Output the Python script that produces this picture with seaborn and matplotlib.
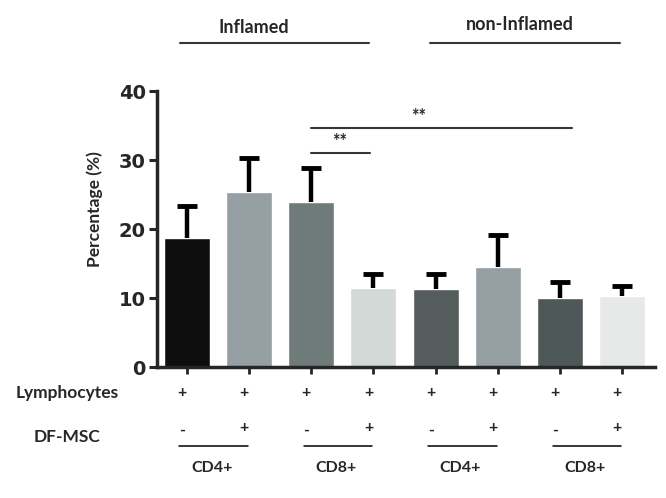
import matplotlib
matplotlib.use("Agg")
import matplotlib.pyplot as plt
import seaborn as sns

# Waarden
categories = ["Inf CD4", "Inf CD4 MSC", "Inf CD8", "Inf CD8 MSC",
              "Non CD4", "Non CD4 MSC", "Non CD8", "Non CD8 MSC"]
means = [18.7, 25.4, 23.9, 11.5, 11.3, 14.5, 10.0, 10.3]
errors = [4.6, 4.9, 4.9, 2.0, 2.2, 4.6, 2.3, 1.4]
lymphocytes = ["+", "+", "+", "+", "+", "+", "+", "+"]
df_msc = ["-", "+", "-", "+", "-", "+", "-", "+"]
subsets = ["CD4+", "CD8+", "CD4+", "CD8+"]
groups = ["Inflamed", "non-Inflamed"]
colors = ["#0e0e0e", "#969fa3", "#6f7b79", "#d3d9d7",
          "#545c5c", "#969fa3", "#4e5858", "#e6e9e8"]

sns.set_style("ticks")
plt.rcParams["font.family"] = ["Lato", "DejaVu Sans"]

fig = plt.figure(figsize=(6.66, 4.98), dpi=100)
ax = fig.add_axes([0.2357, 0.263, 0.748, 0.554])

sns.barplot(x=categories, y=means, hue=categories, palette=colors, legend=False,
            width=0.74, saturation=1, ax=ax)
x = list(range(len(categories)))
tops = [m + e for m, e in zip(means, errors)]
# alleen bovenste foutbalk
ax.vlines(x, means, tops, color="black", lw=3.2, zorder=1)
ax.plot(x, tops, linestyle="none", marker="_", markersize=14.5, mew=3.5,
        color="black", zorder=1)

ax.set_xlim(-0.48, 7.53)
ax.set_ylim(0, 40)
ax.set_yticks([0, 10, 20, 30, 40])
ax.set_yticklabels(["0", "10", "20", "30", "40"], fontsize=14, fontweight="bold",
                   family="DejaVu Sans")
ax.set_xticks(x)
ax.set_xticklabels([])
ax.tick_params(axis="y", length=6, width=2.2, pad=2)
ax.tick_params(axis="x", length=5, width=2)
sns.despine(ax=ax)
for s in ["left", "bottom"]:
    ax.spines[s].set_linewidth(2.5)
ax.set_ylabel("Percentage (%)", fontsize=12.5, fontweight="bold")
ax.yaxis.set_label_coords(-0.108, 0.572)

# Significantie
sig_color = "#30383d"
ax.plot([2.0, 2.95], [31.0, 31.0], color=sig_color, lw=1.5, clip_on=False)
ax.text(2.45, 31.5, "**", ha="center", va="bottom", fontsize=13, fontweight="bold")
ax.plot([2.0, 6.19], [34.6, 34.6], color=sig_color, lw=1.5, clip_on=False)
ax.text(3.72, 35.1, "**", ha="center", va="bottom", fontsize=13, fontweight="bold")

# Groepen bovenaan
for (x0, x1, xc, yb, label) in [(-0.11, 2.93, 1.08, 48.4, groups[0]),
                                (3.91, 6.96, 5.35, 48.8, groups[1])]:
    ax.plot([x0, x1], [47.0, 47.0], color=sig_color, lw=1.5, clip_on=False)
    ax.text(xc, yb, label, ha="center", va="baseline", fontsize=13, fontweight="bold")

# Tabel onder de as
ax.text(-1.93, -3.8, "Lymphocytes", ha="center", va="center", fontsize=12.5, fontweight="bold")
ax.text(-1.93, -10.1, "DF-MSC", ha="center", va="center", fontsize=12.5, fontweight="bold")
for i in x:
    ax.text(i - 0.08, -3.8, lymphocytes[i], ha="center", va="center", fontsize=11.5, fontweight="bold")
    dy = -9.3 if df_msc[i] == "-" else -8.9
    ax.text(i - 0.08, dy, df_msc[i], ha="center", va="center", fontsize=11.5, fontweight="bold")
for k, name in enumerate(subsets):
    a = 2 * k
    ax.plot([a - 0.12, a + 0.98], [-11.5, -11.5], color="black", lw=1.1, clip_on=False)
    ax.text(a + 0.4, -14.7, name, ha="center", va="center", fontsize=11.5, fontweight="bold")

fig.savefig("out.png", dpi=100)
